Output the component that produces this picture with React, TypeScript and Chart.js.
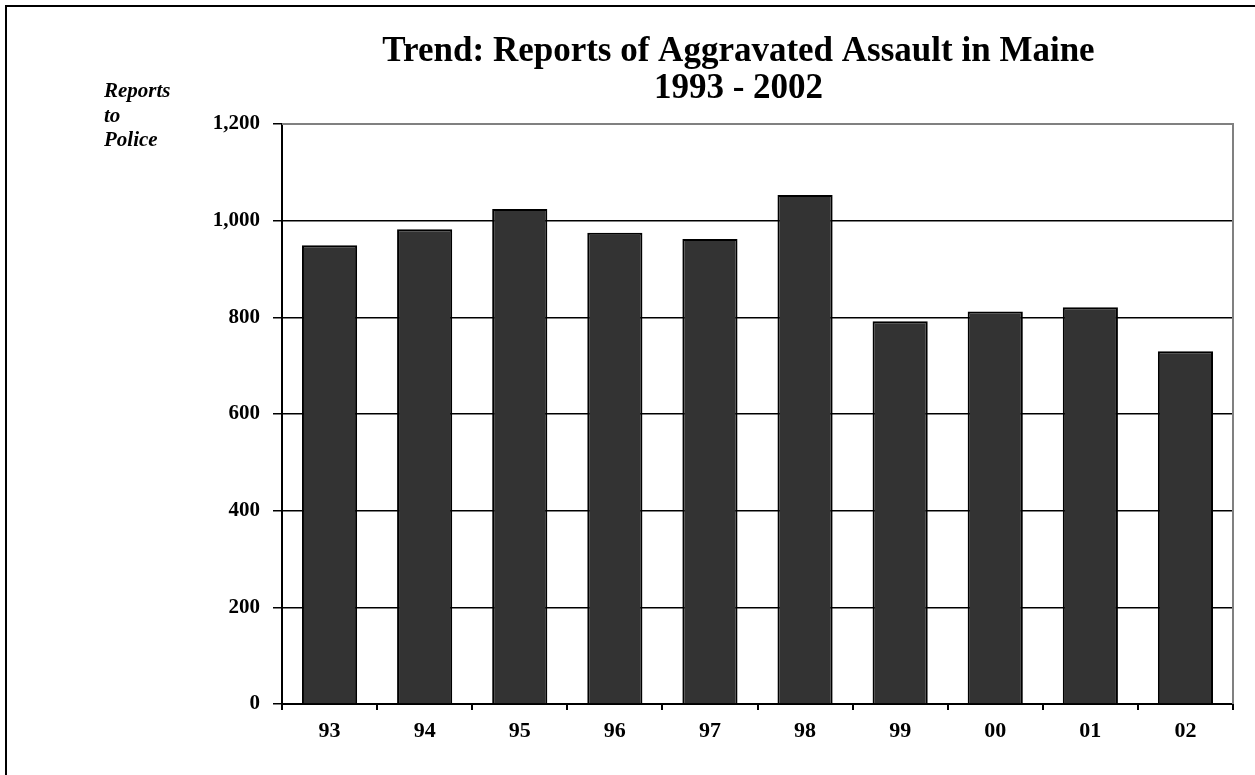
import React, { useEffect, useRef } from "react";
import { Chart, registerables } from "chart.js";
Chart.register(...registerables);

const categories = ["93", "94", "95", "96", "97", "98", "99", "00", "01", "02"];
const reports = [949, 982, 1024, 975, 962, 1053, 792, 812, 821, 730];
const yMin = 0;
const yMax = 1200;
const yStep = 200;
const titleLines = ["Trend: Reports of Aggravated Assault in Maine", "1993 - 2002"];
const axisLabelLines = ["Reports", "to", "Police"];

const SERIF = '"Liberation Serif", "Times New Roman", serif';

export default function App() {
  const ref = useRef<HTMLCanvasElement>(null);

  useEffect(() => {
    if (!ref.current) return;
    const decor = {
      id: "decor",
      afterDraw(chart: any) {
        const { ctx, chartArea: a } = chart;
        ctx.save();
        // gray plot frame top & right
        ctx.strokeStyle = "#808080";
        ctx.lineWidth = 2;
        ctx.beginPath();
        ctx.moveTo(a.left, a.top);
        ctx.lineTo(a.right, a.top);
        ctx.lineTo(a.right, a.bottom);
        ctx.stroke();
        // title
        ctx.fillStyle = "#000";
        ctx.textAlign = "center";
        ctx.textBaseline = "alphabetic";
        ctx.font = `bold 35px ${SERIF}`;
        const cx = (a.left + a.right) / 2 - 19;
        ctx.fillText(titleLines[0], cx, a.top - 63);
        ctx.fillText(titleLines[1], cx, a.top - 26);
        // axis label
        ctx.textAlign = "left";
        ctx.font = `italic bold 21px ${SERIF}`;
        axisLabelLines.forEach((t, i) => {
          ctx.fillText(t, 104, a.top - 27 + i * 24.5);
        });
        ctx.restore();
      },
    };

    const chart = new Chart(ref.current, {
      type: "bar",
      data: {
        labels: categories,
        datasets: [
          {
            data: reports,
            backgroundColor: "#333333",
            borderColor: "#000000",
            borderWidth: 2,
            barPercentage: 0.58,
            categoryPercentage: 1,
          },
        ],
      },
      options: {
        responsive: false,
        animation: false,
        devicePixelRatio: 1,
        layout: { padding: { left: 200, right: 22, top: 124, bottom: 21 } },
        plugins: { legend: { display: false }, title: { display: false }, tooltip: { enabled: false } },
        scales: {
          x: {
            afterFit: (s: any) => {
              s.height = 50;
            },
            grid: {
              drawOnChartArea: false,
              drawTicks: true,
              tickLength: 6,
              offset: true,
              color: "#000",
              tickColor: "#000",
              lineWidth: 2,
            },
            border: { color: "#000", width: 2 },
            ticks: {
              color: "#000",
              font: { family: SERIF, size: 22, weight: "bold" },
              padding: 8,
              maxRotation: 0,
            },
          },
          y: {
            min: yMin,
            max: yMax,
            afterFit: (s: any) => {
              s.width = 82;
            },
            grid: {
              color: (c: any) => (c.tick && c.tick.value === yMax ? "rgba(0,0,0,0)" : "#000"),
              tickColor: "#000",
              lineWidth: 1.5,
              tickLength: 9,
            },
            border: { color: "#000", width: 2 },
            ticks: {
              stepSize: yStep,
              color: "#000",
              font: { family: SERIF, size: 21, weight: "bold" },
              padding: 13,
              callback: (v: any) => Number(v).toLocaleString("en-US"),
            },
          },
        },
      },
      plugins: [decor],
    });
    return () => chart.destroy();
  }, []);

  return (
    <>
      <div
        style={{
          position: "fixed",
          left: 5,
          top: 5,
          width: 1400,
          height: 900,
          borderLeft: "2px solid #000",
          borderTop: "2px solid #000",
        }}
      />
      <canvas
        ref={ref}
        width={1255}
        height={775}
        style={{ position: "fixed", left: 0, top: 0, width: 1255, height: 775, display: "block" }}
      />
    </>
  );
}
